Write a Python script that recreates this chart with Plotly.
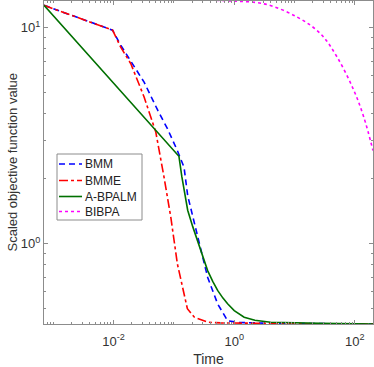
import numpy as np
import plotly.graph_objects as go

# ---- data (time, scaled objective value) ----
bmm_t = [7e-4, 0.0096, 0.0131, 0.032, 0.054, 0.078, 0.114, 0.147, 0.169, 0.247, 0.362, 0.53, 0.776, 1.2, 3.0, 20.0, 200.0]
bmm_v = [12.7, 9.75, 8.3, 5.6, 4.14, 3.41, 2.70, 2.26, 1.67, 1.07, 0.70, 0.527, 0.44, 0.432, 0.429, 0.427, 0.425]

bmme_t = [7e-4, 0.0096, 0.0131, 0.0193, 0.032, 0.050, 0.0686, 0.0886, 0.114, 0.147, 0.167, 0.218, 0.363, 0.6, 2.0, 20.0, 200.0]
bmme_v = [12.7, 9.75, 8.13, 6.81, 4.78, 3.29, 2.03, 1.33, 0.807, 0.587, 0.50, 0.457, 0.433, 0.430, 0.428, 0.426, 0.425]

abp_t = [7e-4, 0.121, 0.135, 0.150, 0.169, 0.205, 0.247, 0.30, 0.362, 0.44, 0.53, 0.65, 0.776, 1.0, 1.46, 2.2, 4.0, 27.0, 200.0]
abp_v = [12.7, 2.54, 2.05, 1.70, 1.43, 1.20, 1.035, 0.88, 0.751, 0.67, 0.608, 0.56, 0.527, 0.49, 0.457, 0.442, 0.433, 0.428, 0.425]

bib_t = [0.5, 0.88, 3.13, 11.1, 27.0, 50.9, 96.2, 141.0, 200.0]
bib_v = [13.4, 13.3, 12.9, 11.2, 9.38, 7.31, 5.13, 3.85, 2.70]

series_names = ["BMM", "BMME", "A-BPALM", "BIBPA"]

x_tickvals = [1e-2, 1, 1e2]
x_ticktext = ["10<sup>-2</sup>", "10<sup>0</sup>", "10<sup>2</sup>"]
y_tickvals = [1, 10]
y_ticktext = ["10<sup>0</sup>", "10<sup>1</sup>"]

FONT = "Liberation Sans, Arial, sans-serif"
AX = "#8c8c8c"
colors = ["#0000ff", "#ff0000", "#007000", "#ff00ff"]
dashes = ["6px,4px", "dashdot", "solid", "dot"]

W, H = 374, 367
ML, MR, MT, MB = 44, 1, 1, 43

fig = go.Figure()
fig.add_trace(go.Scatter(x=bmm_t, y=bmm_v, mode="lines", name=series_names[0],
                         line=dict(color=colors[0], width=1.6, dash=dashes[0])))
fig.add_trace(go.Scatter(x=bmme_t, y=bmme_v, mode="lines", name=series_names[1],
                         line=dict(color=colors[1], width=1.6, dash=dashes[1])))
fig.add_trace(go.Scatter(x=abp_t, y=abp_v, mode="lines", name=series_names[2],
                         line=dict(color=colors[2], width=1.6, dash=dashes[2])))
fig.add_trace(go.Scatter(x=bib_t, y=bib_v, mode="lines", name=series_names[3],
                         line=dict(color=colors[3], width=1.6, dash=dashes[3], shape="spline")))

def minors(lo, hi):
    out = []
    for d in range(lo, hi + 1):
        for m in range(2, 10):
            out.append(m * 10.0 ** d)
    return out

axis_common = dict(
    type="log", showgrid=False, zeroline=False, showline=True, linecolor=AX,
    linewidth=1, mirror="ticks", ticks="inside", ticklen=4, tickcolor=AX,
    automargin=False,
    tickfont=dict(family=FONT, size=13, color="#333333"),
)

fig.update_xaxes(**axis_common, range=[np.log10(7e-4), np.log10(200)],
                 tickmode="array", tickvals=x_tickvals, ticktext=x_ticktext,
                 ticklabelstandoff=5,
                 minor=dict(ticks="inside", ticklen=2, tickcolor=AX,
                            tickmode="array", tickvals=minors(-4, 2) + [1e-3, 1e-1, 10]),
                 title=dict(text="Time", standoff=7,
                            font=dict(family=FONT, size=14, color="#333333")))
fig.update_yaxes(**axis_common, range=[np.log10(0.425), np.log10(13.3)],
                 tickmode="array", tickvals=y_tickvals, ticktext=y_ticktext,
                 minor=dict(ticks="inside", ticklen=2, tickcolor=AX,
                            tickmode="array", tickvals=minors(-1, 1)))

# ---- hand-built legend (pixel layout converted to paper coords) ----
pw, ph = W - ML - MR, H - MT - MB
def px(x):
    return (x - ML) / pw
def py(y):
    return (H - MB - y) / ph

shapes = [dict(type="rect", xref="paper", yref="paper",
               x0=px(57), x1=px(142), y0=py(220), y1=py(154),
               line=dict(color=AX, width=1), fillcolor="white", layer="above")]
annotations = [dict(xref="paper", yref="paper", x=px(12), y=0.5,
                    xanchor="center", yanchor="middle", showarrow=False, textangle=-90,
                    text="Scaled objective function value",
                    font=dict(family=FONT, size=13, color="#333333"))]
row_y = [164, 180.5, 196.5, 211.5]
for name, c, d, ry in zip(series_names, colors, dashes, row_y):
    shapes.append(dict(type="line", xref="paper", yref="paper",
                       x0=px(59), x1=px(82), y0=py(ry), y1=py(ry),
                       line=dict(color=c, width=1.6, dash=d), layer="above"))
    annotations.append(dict(xref="paper", yref="paper", x=px(83), y=py(ry),
                            xanchor="left", yanchor="middle", showarrow=False,
                            text=name, font=dict(family=FONT, size=12, color="#222222")))

fig.update_layout(
    width=W, height=H,
    margin=dict(l=ML, r=MR, t=MT, b=MB, autoexpand=False),
    plot_bgcolor="white", paper_bgcolor="white",
    showlegend=False,
    shapes=shapes, annotations=annotations,
)

fig.write_html("out.html", config={"displayModeBar": False},
               post_script="document.body.style.margin='0';")
